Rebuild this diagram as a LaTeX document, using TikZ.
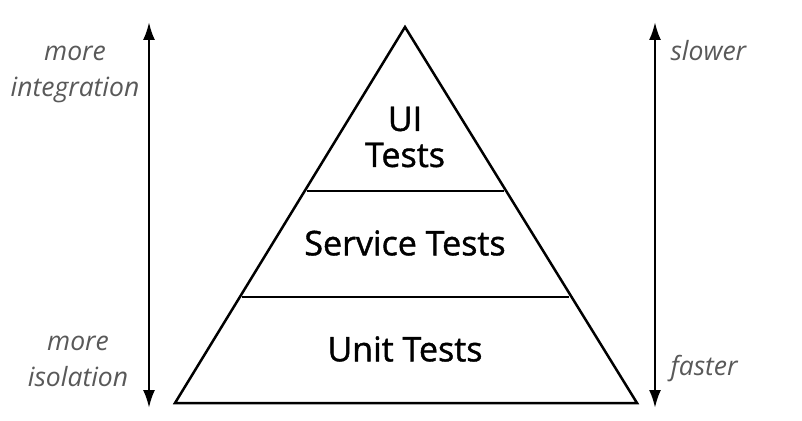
\documentclass[tikz,border=0pt]{standalone}
\usepackage{fontspec}
\setmainfont{Open Sans}
\newfontfamily\semibold[FakeBold=1.2]{Open Sans}
\usetikzlibrary{arrows.meta,positioning}

\begin{document}
\begin{tikzpicture}[
  x=1pt, y=-1pt,
  layer/.style={font=\semibold\fontsize{34}{36}\selectfont, align=center},
  side/.style={font=\fontsize{26.5}{36}\selectfont\itshape, text=black!65, align=center},
  edge/.style={line width=2.5pt, line join=miter},
  arrow/.style={{Latex[length=18pt,width=12pt]}-{Latex[length=18pt,width=12pt]}, line width=2.5pt}
]
  \useasboundingbox (0,0) rectangle (802,420);
  % pyramid
  \coordinate (apex) at (405,27);
  \coordinate (baseL) at (175,403);
  \coordinate (baseR) at (637,403);
  \coordinate (midL) at (242,297);
  \coordinate (midR) at (569,297);
  \coordinate (topL) at (307,191);
  \coordinate (topR) at (504,191);
  \draw[edge] (baseL) -- (apex) -- (baseR) -- cycle;
  \draw[edge] (topL) -- (topR);
  \draw[edge] (midL) -- (midR);
  \node[layer] (ui) at (405,137) {UI\\Tests};
  \node[layer] (service) at (405,243) {Service Tests};
  \node[layer] (unit) at (405,349) {Unit Tests};
  % side arrows
  \coordinate (ltop) at (149,22);
  \coordinate (lbot) at (149,408);
  \coordinate (rtop) at (655,22);
  \coordinate (rbot) at (655,408);
  \draw[arrow] (lbot) -- (ltop);
  \draw[arrow] (rbot) -- (rtop);
  \node[side] (integ) at (75,74) {more\\integration};
  \node[side] (isol) at (78,361) {more\\isolation};
  \node[side, anchor=west] (slow) at (667,51) {slower};
  \node[side, anchor=west] (fast) at (667,369) {faster};
\end{tikzpicture}
\end{document}
